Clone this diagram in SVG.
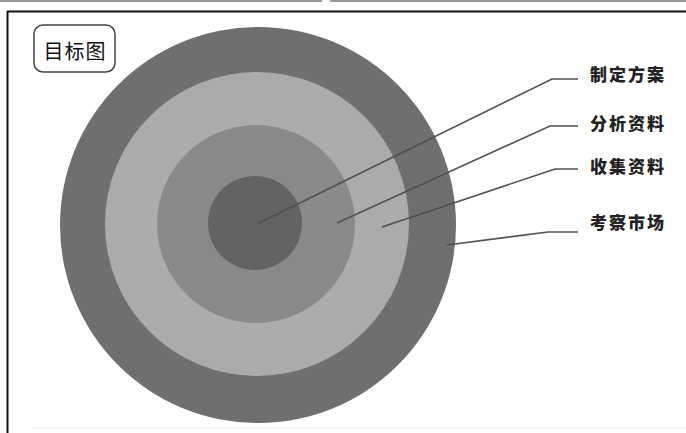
<svg xmlns="http://www.w3.org/2000/svg" width="686" height="433" viewBox="0 0 686 433">
<style>
.lbl{font-family:"Noto Sans CJK SC","Noto Sans",sans-serif;font-size:17px;font-weight:900;fill:#222;letter-spacing:2px}
.ttl{font-family:"Noto Sans CJK SC","Noto Sans",sans-serif;font-size:20px;fill:#111;letter-spacing:1px}
.conn{fill:none;stroke:#505050;stroke-width:1.6}
</style>
<rect width="686" height="433" fill="#fff"/>
<line x1="0" y1="1" x2="322" y2="1" stroke="#333" stroke-width="1.2"/>
<line x1="330" y1="1" x2="686" y2="1" stroke="#333" stroke-width="1.2"/>
<line x1="7" y1="11.5" x2="686" y2="11.5" stroke="#111" stroke-width="2"/>
<line x1="7.5" y1="11" x2="7.5" y2="433" stroke="#111" stroke-width="2"/>
<line x1="32" y1="428" x2="686" y2="428" stroke="#eee" stroke-width="1"/>
<g id="title">
<rect x="34" y="25" width="81" height="47" rx="9" fill="#fff" stroke="#444" stroke-width="1.5"/>
<text class="ttl" x="75" y="59" text-anchor="middle">目标图</text>
</g>
<g id="target">
<circle id="ring-market" cx="258" cy="225" r="198" fill="#6f6f6f"/>
<circle id="ring-collect" cx="257" cy="224" r="152" fill="#ababab"/>
<circle id="ring-analyze" cx="256" cy="224" r="99" fill="#898989"/>
<circle id="ring-plan" cx="255" cy="223" r="47" fill="#636363"/>
</g>
<g id="connectors">
<polyline class="conn" points="257,224 552,79 578,79"/>
<polyline class="conn" points="337,223 550,126 578,126"/>
<polyline class="conn" points="382,227 555,169 578,169"/>
<polyline class="conn" points="447,245 548,232 578,232"/>
</g>
<g id="label-plan"><text class="lbl" x="590" y="81">制定方案</text></g>
<g id="label-analyze"><text class="lbl" x="590" y="130">分析资料</text></g>
<g id="label-collect"><text class="lbl" x="590" y="173">收集资料</text></g>
<g id="label-market"><text class="lbl" x="590" y="229">考察市场</text></g>
</svg>
